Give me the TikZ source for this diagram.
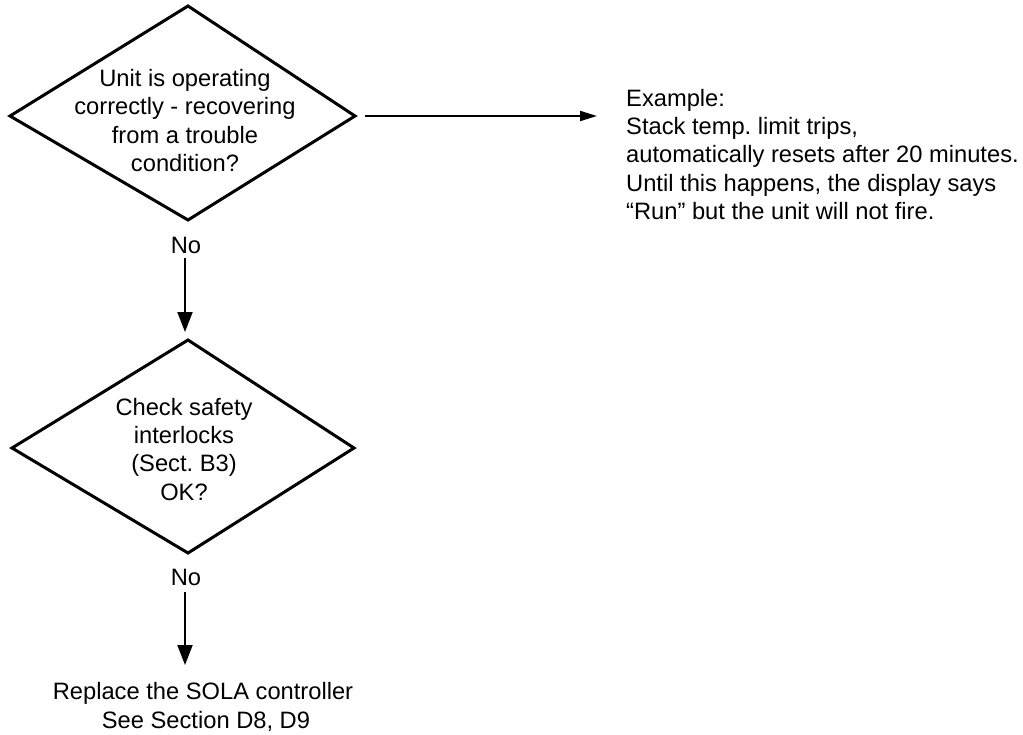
\documentclass[tikz,border=0pt]{standalone}
\usepackage{fontspec}
\setmainfont{Liberation Sans}
\usetikzlibrary{arrows.meta}
\frenchspacing
\begin{document}
\begin{tikzpicture}[x=1pt,y=-1pt,
  txt/.style={inner sep=0pt,font=\fontsize{23.7}{28.4}\selectfont\frenchspacing},
  qtext/.style={txt,align=center,anchor=north},
  decision/.style={draw=black,line width=3pt,line join=miter},
  flow/.style={draw=black,line width=2pt,-{Triangle[length=20pt,width=15pt]}},
  side/.style={draw=black,line width=2pt,-{Triangle[length=17pt,width=10pt]}}]
\useasboundingbox[fill=white] (0,0) rectangle (1023,734);

% first decision
\coordinate (d1t) at (188,6);
\coordinate (d1r) at (355,116);
\coordinate (d1b) at (188,220);
\coordinate (d1l) at (10,116);
\draw[decision] (d1t) -- (d1r) -- (d1b) -- (d1l) -- cycle;
\node[qtext] (q1) at (185,69) {Unit is operating\\correctly - recovering\\from a trouble\\condition?};

% example note on the right
\node[txt,align=left,anchor=north west] (ex) at (626,88.8)
  {Example:\\Stack temp. limit trips,\\automatically resets after 20 minutes.\\Until this happens, the display says\\“Run” but the unit will not fire.};
\draw[side,shorten <=10pt,shorten >=29pt] (d1r) -- (d1r -| ex.west);

% second decision
\coordinate (d2t) at (188,340);
\coordinate (d2r) at (354,448);
\coordinate (d2b) at (188,553);
\coordinate (d2l) at (12,448);
\draw[decision] (d2t) -- (d2r) -- (d2b) -- (d2l) -- cycle;
\node[qtext] (q2) at (184,397.7) {Check safety\\interlocks\\(Sect. B3)\\OK?};

% "No" branches
\node[txt,anchor=base,inner sep=4.5pt] (no1) at (186,253) {No};
\draw[flow,shorten <=0.5pt,shorten >=8pt] (no1.south -| 185,0) -- (d2t -| 185,0);

\node[txt,anchor=base,inner sep=4.5pt] (no2) at (186,585) {No};
\node[qtext] (sola) at (203,682.6) {Replace the SOLA controller\\\hspace*{6pt}See Section D8, D9};
\draw[flow,shorten <=2pt,shorten >=17.6pt] (no2.south -| 185,0) -- (sola.north -| 185,0);
\end{tikzpicture}
\end{document}
